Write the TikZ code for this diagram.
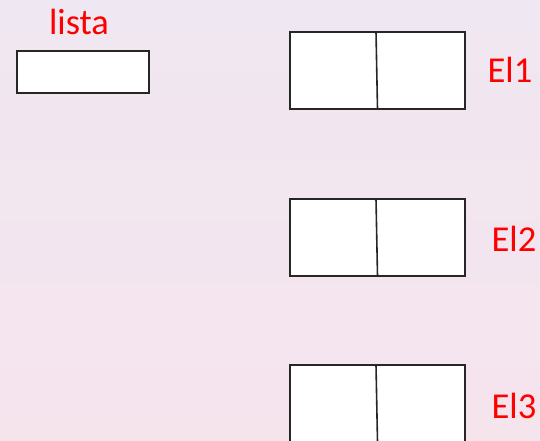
\documentclass[tikz,border=0pt]{standalone}
\usepackage{fontspec}
\setmainfont{Carlito}
\definecolor{bgtop}{RGB}{239,231,241}
\definecolor{bgbot}{RGB}{246,228,237}
\definecolor{lbl}{RGB}{255,0,0}
\begin{document}
\begin{tikzpicture}[x=1pt,y=-1pt,
  cell/.style={draw=black!85,line width=1.6pt,fill=white},
  lab/.style={text=lbl,font=\fontsize{36.5}{40}\selectfont,inner sep=0pt,anchor=center}]
\useasboundingbox (0,0) rectangle (540,440);
\shade[top color=bgtop,bottom color=bgbot] (0,0) rectangle (540,440);
% lista
\node[lab] (tlista) at (79,22) {lista};
\draw[cell] (17,51) rectangle (149,93);
\coordinate (listabox) at (83,72);
% El1
\draw[cell] (290,32) rectangle (465,109);
\draw[line width=1.6pt,black!85] (376,32) -- (377.5,109);
\node[lab] (t1) at (510,70) {El1};
% El2
\draw[cell] (290,199) rectangle (465,276);
\draw[line width=1.6pt,black!85] (376,199) -- (377.5,276);
\node[lab] (t2) at (514,239) {El2};
% El3
\draw[cell] (290,365) rectangle (465,442);
\draw[line width=1.6pt,black!85] (376,365) -- (377.5,442);
\node[lab] (t3) at (514,406) {El3};
\end{tikzpicture}
\end{document}
